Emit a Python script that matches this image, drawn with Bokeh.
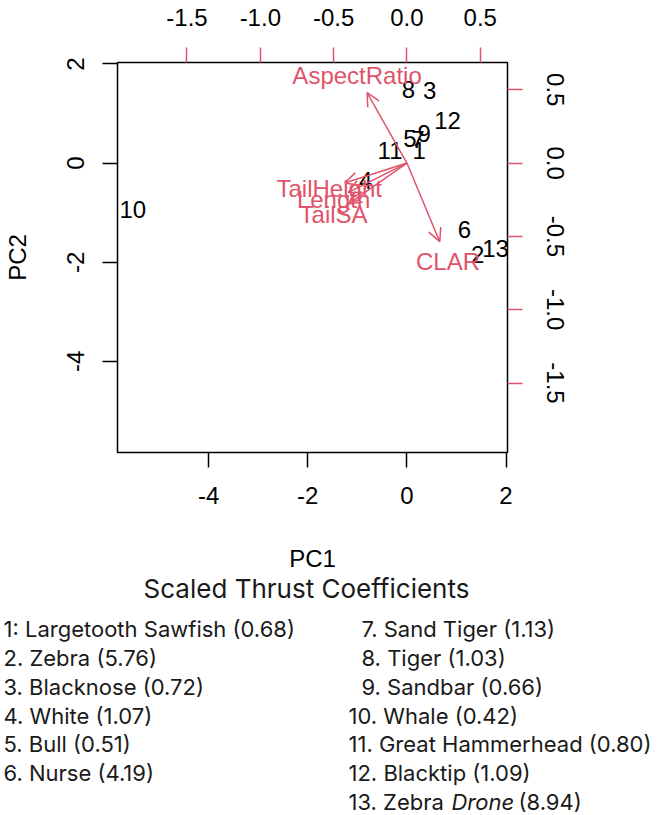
import math
from bokeh.plotting import figure
from bokeh.models import (Range1d, LinearAxis, FixedTicker, PrintfTickFormatter,
                          Arrow, OpenHead, ColumnDataSource)
from bokeh.embed import file_html
from bokeh.resources import INLINE
from bokeh.core.properties import value

# PCA scores of the 13 shark tails (PC1, PC2)
species_ids = [str(i) for i in range(1, 14)]
pc1_scores = [0.25, 1.43, 0.46, -0.83, 0.06, 1.16, 0.22, 0.03, 0.35, -5.53, -0.34, 0.82, 1.79]
pc2_scores = [0.26, -1.84, 1.46, -0.36, 0.50, -1.33, 0.47, 1.48, 0.60, -0.93, 0.25, 0.85, -1.72]

# variable loadings, read against the top/right axes
variables = ["AspectRatio", "CLAR", "TailHeight", "Length", "TailSA"]
load_pc1 = [-0.34, 0.28, -0.53, -0.50, -0.50]
load_pc2 = [0.60, -0.67, -0.17, -0.25, -0.35]

# key: species and scaled thrust coefficient
species_names = ["Largetooth Sawfish", "Zebra", "Blacknose", "White", "Bull", "Nurse",
                 "Sand Tiger", "Tiger", "Sandbar", "Whale", "Great Hammerhead",
                 "Blacktip", "Zebra Drone"]
thrust_coeffs = [0.68, 5.76, 0.72, 1.07, 0.51, 4.19, 1.13, 1.03, 0.66, 0.42, 0.80, 1.09, 8.94]

score_ticks = [-4, -2, 0, 2]
load_ticks = [-1.5, -1.0, -0.5, 0.0, 0.5]

score_lim = (-5.84, 2.03)
load_lim = (-1.974, 0.686)

RED = "#DF536B"
INK = "#1a1a1a"
R_FONT = "Liberation Sans"
KEY_FONT = "Inter"
ARROW_SCALE = 0.8   # biplot draws arrows at 80% of the loading

W = 661
PLOT_H = 530
KEY_H = 815 - PLOT_H

p = figure(width=W, height=PLOT_H, x_range=Range1d(*score_lim), y_range=Range1d(*score_lim),
           output_backend="svg", toolbar_location=None,
           x_axis_location=None, y_axis_location=None,
           min_border_left=117, min_border_right=154,
           min_border_top=62, min_border_bottom=PLOT_H - 452)
p.grid.visible = False
p.extra_x_ranges = {"load": Range1d(*load_lim)}
p.extra_y_ranges = {"load": Range1d(*load_lim)}
p.outline_line_color = "black"
p.outline_line_width = 1.5
p.background_fill_color = "white"
p.border_fill_color = "white"


def style_axis(ax, tick_color, standoff):
    ax.axis_line_color = None
    ax.major_tick_line_color = tick_color
    ax.major_tick_line_width = 1.5
    ax.major_tick_out = 15
    ax.major_tick_in = 0
    ax.minor_tick_line_color = None
    ax.major_label_text_font = R_FONT
    ax.major_label_text_font_size = "24px"
    ax.major_label_text_color = "black"
    ax.major_label_standoff = standoff
    ax.axis_label_text_font = R_FONT
    ax.axis_label_text_font_size = "24px"
    ax.axis_label_text_font_style = "normal"
    ax.axis_label_text_color = "black"


bottom = LinearAxis(ticker=FixedTicker(ticks=score_ticks),
                    formatter=PrintfTickFormatter(format="%d"))
style_axis(bottom, "black", 19)
p.add_layout(bottom, "below")

left = LinearAxis(ticker=FixedTicker(ticks=score_ticks),
                  formatter=PrintfTickFormatter(format="%d"), axis_label="PC2",
                  major_label_orientation="vertical")
style_axis(left, "black", 18)
left.axis_label_standoff = 34
p.add_layout(left, "left")

top = LinearAxis(x_range_name="load", ticker=FixedTicker(ticks=load_ticks),
                 formatter=PrintfTickFormatter(format="%.1f"))
style_axis(top, RED, 22)
p.add_layout(top, "above")

right = LinearAxis(y_range_name="load", ticker=FixedTicker(ticks=load_ticks),
                   formatter=PrintfTickFormatter(format="%.1f"),
                   major_label_orientation="vertical")
style_axis(right, RED, 24)
p.add_layout(right, "right")

# species scores as numbered labels
p.text(x=pc1_scores, y=pc2_scores, text=species_ids, text_align="center",
       text_baseline="middle", text_font=value(R_FONT), text_font_size="24px",
       text_color="black")

# loading arrows and variable names
arrow_src = ColumnDataSource(dict(
    x0=[0.0] * len(variables), y0=[0.0] * len(variables),
    x1=[v * ARROW_SCALE for v in load_pc1], y1=[v * ARROW_SCALE for v in load_pc2]))
p.add_layout(Arrow(source=arrow_src, x_start="x0", y_start="y0", x_end="x1", y_end="y1",
                   x_range_name="load", y_range_name="load",
                   line_color=RED, line_width=1.5,
                   end=OpenHead(size=13, line_color=RED, line_width=1.5)))
p.text(x=load_pc1, y=load_pc2, text=variables, x_range_name="load", y_range_name="load",
       text_align="center", text_baseline="middle", text_font=value(R_FONT),
       text_font_size="24px", text_color=RED)

# x-axis title, caption and species key: a second canvas in page pixels (y grows downward)
k = figure(width=W, height=KEY_H, x_range=Range1d(0, W), y_range=Range1d(KEY_H, 0),
           output_backend="svg", toolbar_location=None,
           x_axis_location=None, y_axis_location=None, min_border=0)
k.grid.visible = False
k.outline_line_color = None
k.background_fill_color = "white"
k.border_fill_color = "white"

top_y = PLOT_H
k.text(x=[312], y=[557.5 - top_y], text=["PC1"], text_align="center",
       text_baseline="middle", text_font=value(R_FONT), text_font_size="24px",
       text_color="black")
k.text(x=[306], y=[588 - top_y], text=["Scaled Thrust Coefficients"], text_align="center",
       text_baseline="middle", text_font=value(KEY_FONT), text_font_size="26px",
       text_color=INK)

row0, row_gap = 628.3 - top_y, 28.9
kx, ky, ktext = [], [], []
drone = None
for i, (name, c) in enumerate(zip(species_names, thrust_coeffs)):
    n = i + 1
    sep = ":" if n == 1 else "."
    if n <= 6:
        x, y = 3, row0 + i * row_gap
    else:
        x, y = (348 if n >= 10 else 361), row0 + (i - 6) * row_gap
    if name.endswith("Drone"):
        drone = (x, y, f"{n}{sep} {name[:-6]}", "Drone", f"({c:.2f})")
        continue
    kx.append(x)
    ky.append(y)
    ktext.append(f"{n}{sep} {name} ({c:.2f})")

key_style = dict(text_baseline="middle", text_align="left", text_font=value(KEY_FONT),
                 text_font_size="22px", text_color=INK)
k.text(x=kx, y=ky, text=ktext, **key_style)
if drone:
    x, y, head, ital, tail = drone
    k.text(x=[x], y=[y], text=[head], **key_style)
    k.text(x=[x + 103], y=[y], text=[ital], text_font_style="italic", **key_style)
    k.text(x=[x + 170], y=[y], text=[tail], **key_style)

# two independent roots, stacked on the page
open("out.html", "w").write(file_html([p, k], INLINE))
